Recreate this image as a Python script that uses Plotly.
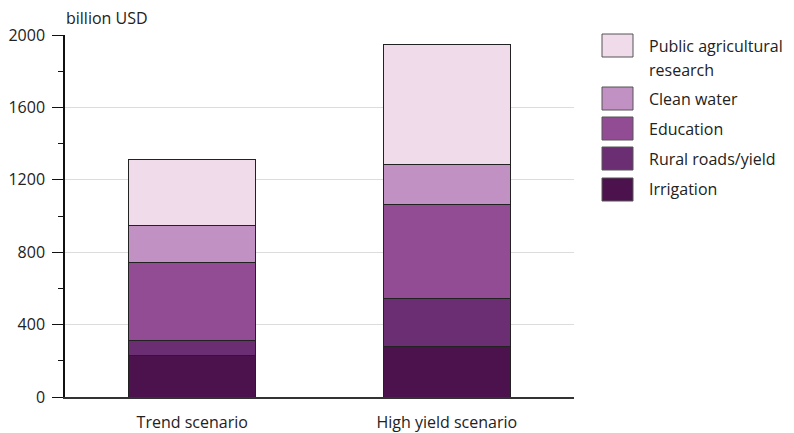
import plotly.graph_objects as go

categories = ["Trend scenario", "High yield scenario"]
series_names = ["Irrigation", "Rural roads/yield", "Education", "Clean water", "Public agricultural research"]
irrigation = [228, 278]
rural_roads = [85, 268]
education = [430, 519]
clean_water = [206, 219]
research = [362, 664]
series_values = [irrigation, rural_roads, education, clean_water, research]
colors = ["#4b124d", "#6b2e72", "#924c94", "#c191c3", "#f0dbeb"]
legend_lines = [["Public agricultural", "research"], ["Clean water"], ["Education"], ["Rural roads/yield"], ["Irrigation"]]
y_ticks = [0, 400, 800, 1200, 1600, 2000]

FONT = "Open Sans"
FS = 16
W, H = 794, 433
L, R, T, B = 65, 220, 35, 36
PW, PH = W - L - R, H - T - B

def px(x):
    return (x - L) / PW

def py(y):
    return (H - B - y) / PH

fig = go.Figure()
for name, vals, col in zip(series_names, series_values, colors):
    fig.add_trace(go.Bar(
        x=categories, y=vals, name=name,
        marker=dict(color=col, line=dict(color="#222", width=1)),
        width=0.5, showlegend=False,
    ))

shapes = []
annotations = []
# manual legend (box sizes bigger than plotly default)
box_tops = [34, 87, 117, 147, 178]
text_ys = [46, 99, 129, 159, 189]
legend_colors = colors[::-1]
for top, ty, lines, col in zip(box_tops, text_ys, legend_lines, legend_colors):
    shapes.append(dict(type="rect", xref="paper", yref="paper",
                       x0=px(602), x1=px(633), y0=py(top), y1=py(top + 23),
                       fillcolor=col, line=dict(color="#555", width=1)))
    for i, line in enumerate(lines):
        annotations.append(dict(xref="paper", yref="paper", x=px(647), y=py(ty + 24 * i),
                                text=line, showarrow=False, xanchor="left", yanchor="middle",
                                align="left", font=dict(family=FONT, size=FS, color="#222")))

annotations.append(dict(xref="paper", yref="paper", x=px(64), y=py(18),
                        text="billion USD", showarrow=False, xanchor="left", yanchor="middle",
                        font=dict(family=FONT, size=FS, color="#222")))

fig.update_layout(
    barmode="stack",
    width=W, height=H,
    margin=dict(l=L, r=R, t=T, b=B, pad=0, autoexpand=False),
    plot_bgcolor="white", paper_bgcolor="white",
    font=dict(family=FONT, size=FS, color="#222"),
    shapes=shapes, annotations=annotations,
    showlegend=False,
    bargap=0.5,
)
fig.update_xaxes(showline=True, linecolor="#333", linewidth=1.5, ticks="",
                 showgrid=False, range=[-0.5, 1.5], tickfont=dict(size=FS, family=FONT),
                 ticklabelstandoff=10, automargin=False)
fig.update_yaxes(range=[0, 2000], tickvals=y_ticks, showline=True, linecolor="#111", linewidth=1.5,
                 ticks="outside", ticklen=11, tickcolor="#111", tickwidth=1.2,
                 showgrid=True, gridcolor="#dcdcdc", gridwidth=1, zeroline=False,
                 minor=dict(dtick=200, ticks="outside", ticklen=5, tickcolor="#111", showgrid=False),
                 tickfont=dict(size=FS, family=FONT), ticklabelstandoff=4, automargin=False)

fig.write_html("out.html", config={"displayModeBar": False},
               post_script="document.body.style.margin='0';document.body.style.overflow='hidden';")
